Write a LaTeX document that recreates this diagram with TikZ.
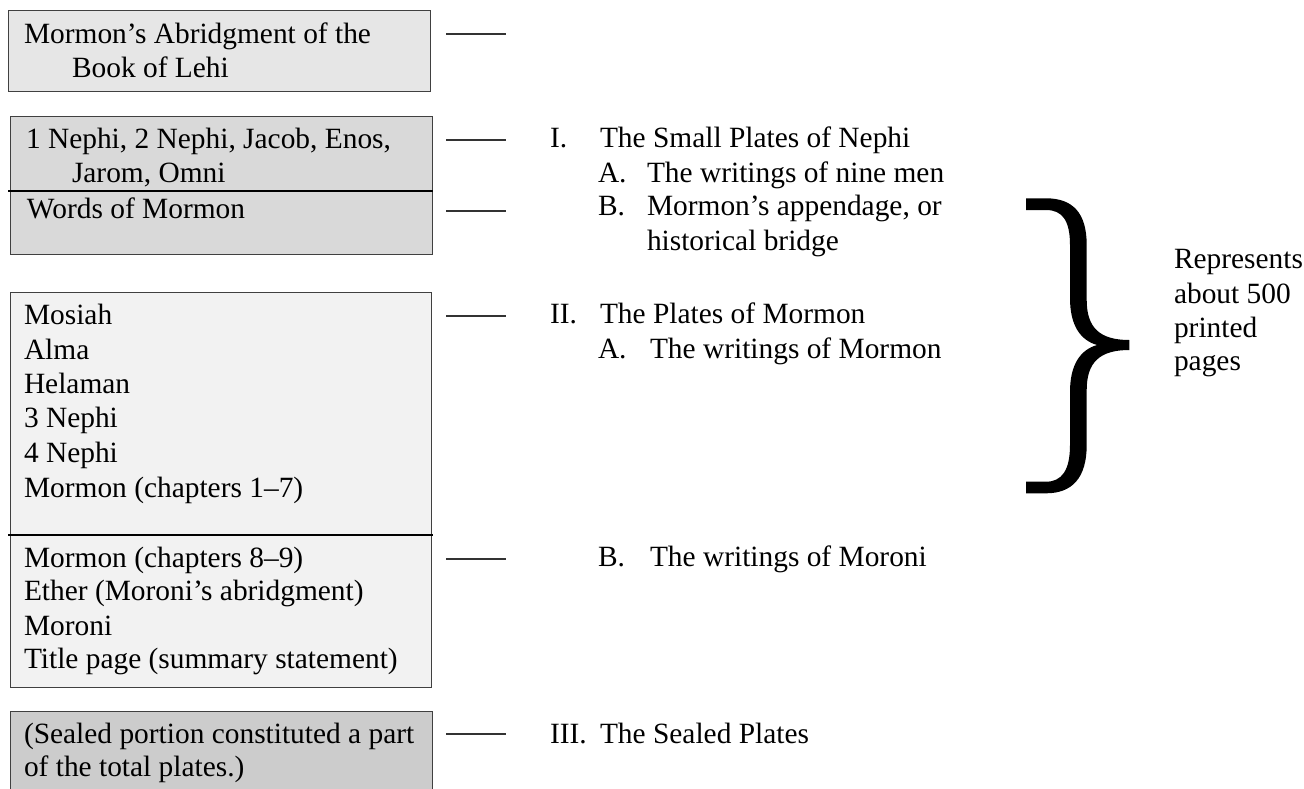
\documentclass[tikz,border=0pt]{standalone}
\usepackage{fontspec}
\setmainfont{Liberation Serif}
\definecolor{fillA}{HTML}{E6E6E6}
\definecolor{fillB}{HTML}{D9D9D9}
\definecolor{fillC}{HTML}{F2F2F2}
\definecolor{fillD}{HTML}{CCCCCC}
\definecolor{edge}{HTML}{404040}
\tikzset{
  plate/.style={draw=edge, line width=1pt, anchor=north west, inner sep=0pt, outer sep=0pt},
  txt/.style={anchor=base west, inner sep=0pt, outer sep=0pt, font=\fontsize{29.4}{34}\selectfont},
  divider/.style={draw=black, line width=2pt},
  tick/.style={draw=black!80, line width=1.5pt},
  braceglyph/.style={fill=black}
}
\begin{document}
\begin{tikzpicture}[x=1pt,y=-1pt]
\useasboundingbox (0,0) rectangle (1304,788);
\clip (0,0) rectangle (1304,788);
% boxes
\node[plate, fill=fillA, minimum width=422pt, minimum height=81pt] (box1) at (8,10) {};
\node[plate, fill=fillB, minimum width=422pt, minimum height=138pt] (box2) at (10,116) {};
\node[plate, fill=fillC, minimum width=421pt, minimum height=395pt] (box3) at (10,292) {};
\node[plate, fill=fillD, minimum width=422pt, minimum height=120pt] (box4) at (10,711) {};
\coordinate (div1a) at (8,191); \coordinate (div1b) at (433,191);
\coordinate (div2a) at (8,535); \coordinate (div2b) at (433,535);
\draw[divider] (div1a) -- (div1b);
\draw[divider] (div2a) -- (div2b);
% box texts
\node[txt] (t1a) at (24,43) {Mormon’s Abridgment of the};
\node[txt] (t1b) at (72,77) {Book of Lehi};
\node[txt] (t2a) at (26,148) {1 Nephi, 2 Nephi, Jacob, Enos,};
\node[txt] (t2b) at (72,182) {Jarom, Omni};
\node[txt] (t2c) at (27,218) {Words of Mormon};
\node[txt] (t3a) at (24,324) {Mosiah};
\node[txt] (t3b) at (24,359) {Alma};
\node[txt] (t3c) at (24,393) {Helaman};
\node[txt] (t3d) at (24,427) {3 Nephi};
\node[txt] (t3e) at (24,462) {4 Nephi};
\node[txt] (t3f) at (24,497) {Mormon (chapters 1–7)};
\node[txt] (t4a) at (24,567) {Mormon (chapters 8–9)};
\node[txt] (t4b) at (24,600) {Ether (Moroni’s abridgment)};
\node[txt] (t4c) at (24,635) {Moroni};
\node[txt] (t4d) at (24,668) {Title page (summary statement)};
\node[txt] (t5a) at (24,743) {(Sealed portion constituted a part};
\node[txt] (t5b) at (24,776) {of the total plates.)};
% ticks
\foreach \i/\y in {1/34,2/140,3/211,4/316,5/559,6/734}{
  \coordinate (ts\i) at (446,\y);
  \coordinate (te\i) at (506,\y);
  \draw[tick] (ts\i) -- (te\i);
}
% outline
\node[txt] (o1n) at (550,147) {I.};
\node[txt] (o1t) at (600,147) {The Small Plates of Nephi};
\node[txt] (o1an) at (598,182) {A.};
\node[txt] (o1at) at (647,182) {The writings of nine men};
\node[txt] (o1bn) at (598,215) {B.};
\node[txt] (o1bt) at (647,215) {Mormon’s appendage, or};
\node[txt] (o1bt2) at (647,250) {historical bridge};
\node[txt] (o2n) at (550,323) {II.};
\node[txt] (o2t) at (600,323) {The Plates of Mormon};
\node[txt] (o2an) at (598,358) {A.};
\node[txt] (o2at) at (650,358) {The writings of Mormon};
\node[txt] (o2bn) at (598,566) {B.};
\node[txt] (o2bt) at (650,566) {The writings of Moroni};
\node[txt] (o3n) at (550,743) {III.};
\node[txt] (o3t) at (600,743) {The Sealed Plates};
% brace glyph
\coordinate (brtop) at (1026,198.3);
\coordinate (brtip) at (1129.3,340);
\coordinate (brbot) at (1026,493.3);
\fill[braceglyph] (brtop) -- (1046,198.3)
  .. controls (1072,198.3) and (1086.7,212) .. (1086.7,245) -- (1086.7,300)
  .. controls (1086.7,328) and (1100,340) .. (brtip) -- (1129.3,350)
  .. controls (1100,350) and (1086.7,362) .. (1086.7,390) -- (1086.7,445)
  .. controls (1086.7,478) and (1072,493.3) .. (1046,493.3) -- (brbot)
  -- (1026,481.7) -- (1046,481.7)
  .. controls (1062,481.7) and (1070,470) .. (1070,445) -- (1070,392)
  .. controls (1070,365) and (1080,350) .. (1097,345)
  .. controls (1080,340) and (1070,325) .. (1070,298) -- (1070,245)
  .. controls (1070,220) and (1062,210) .. (1046,210) -- (1026,210) -- cycle;
\node[txt] (r1) at (1174,268) {Represents};
\node[txt] (r2) at (1174,303) {about 500};
\node[txt] (r3) at (1174,337) {printed};
\node[txt] (r4) at (1174,370) {pages};
\end{tikzpicture}
\end{document}
